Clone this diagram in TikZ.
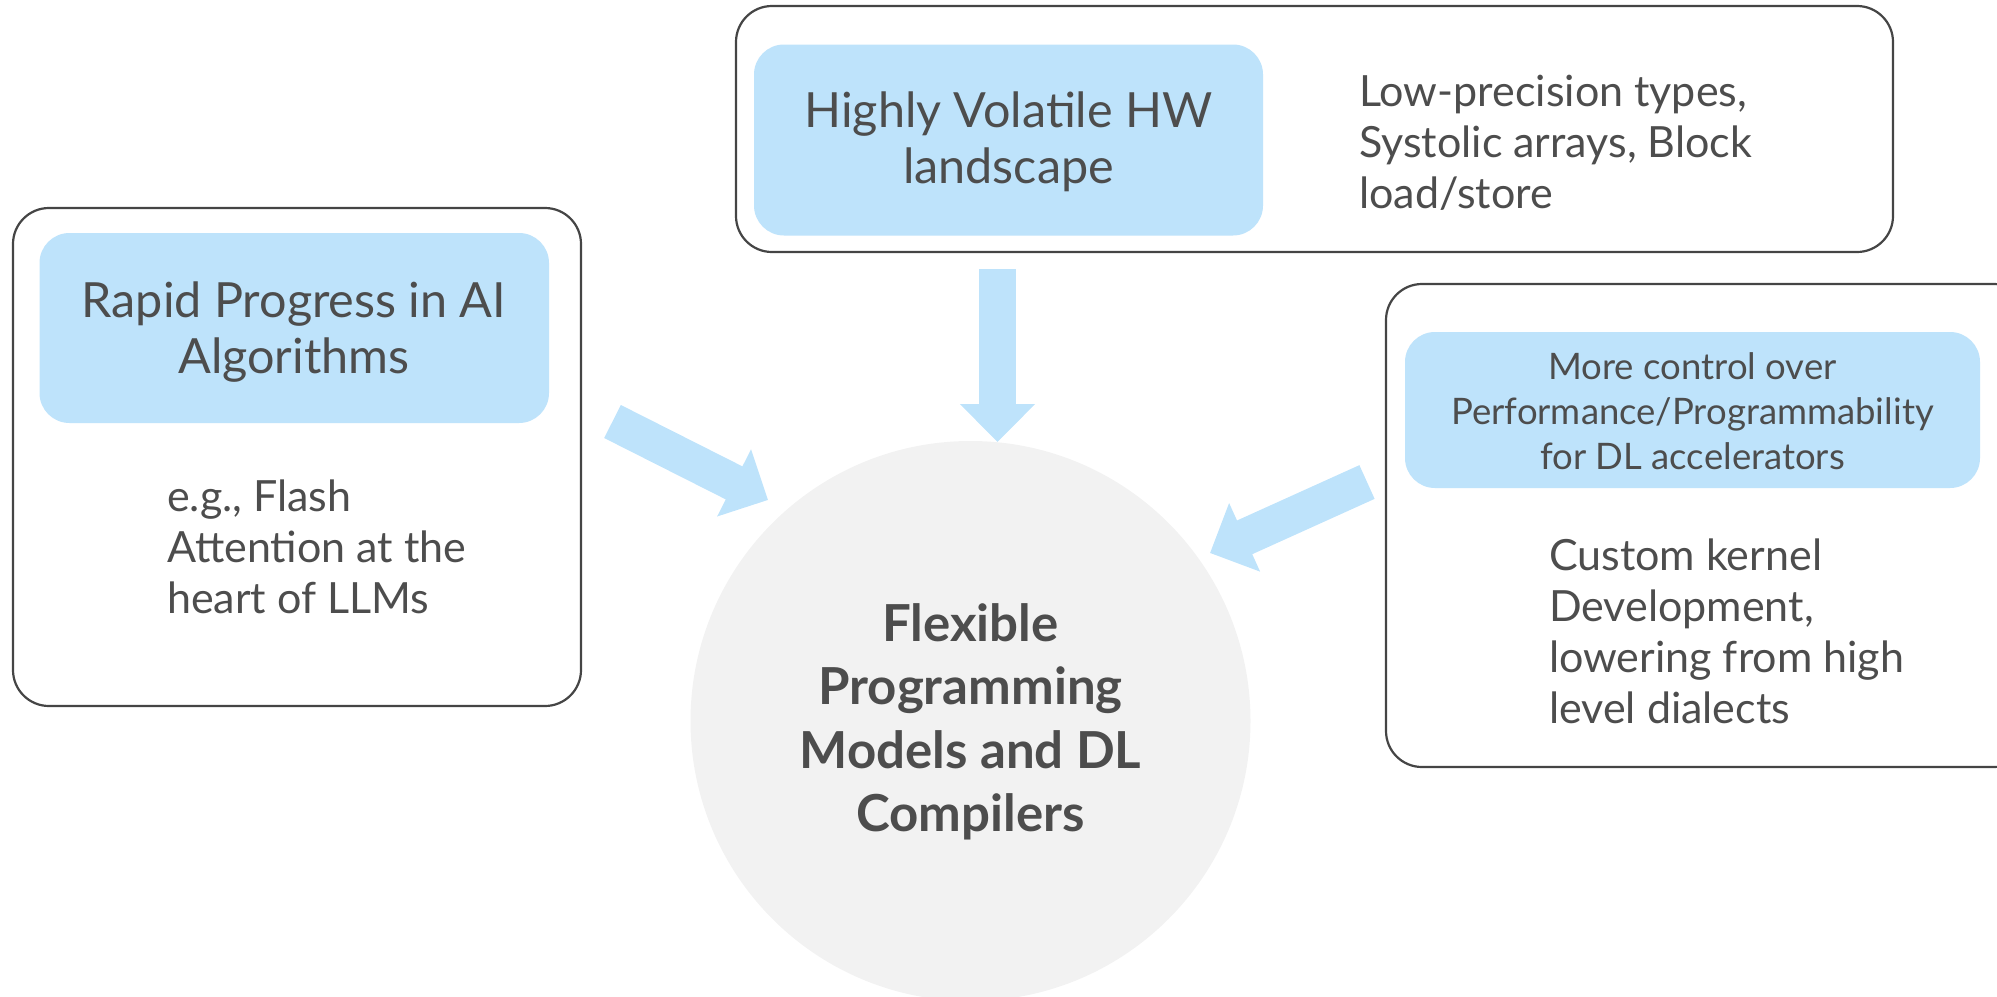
\documentclass[tikz,border=0pt]{standalone}
\usepackage{fontspec}
\setmainfont{Lato}
\usetikzlibrary{arrows.meta}
\definecolor{skyfill}{HTML}{BEE3FB}
\definecolor{hubfill}{HTML}{F2F2F2}
\definecolor{inkgray}{HTML}{4D4D4D}
\definecolor{rimgray}{HTML}{454545}
\tikzset{
  outerbox/.style={draw=rimgray, line width=2.2pt, rounded corners=36pt, fill=white},
  bluebox/.style={fill=skyfill, rounded corners=30pt, draw=none},
  headtxt/.style={text=inkgray, align=center, inner sep=0pt, font=\fontsize{48.5}{56}\selectfont},
  smallhead/.style={text=inkgray, align=center, inner sep=0pt, font=\fontsize{36.5}{45}\selectfont},
  bodytxt/.style={text=inkgray, align=left, inner sep=0pt, anchor=west, font=\fontsize{43}{51}\selectfont},
  hubtxt/.style={text=inkgray, align=center, inner sep=0pt, font=\bfseries\fontsize{51}{63.5}\selectfont},
  fatarrow/.style={draw=skyfill, line width=37pt, line cap=butt,
    -{Triangle[length=38pt 0, width=73pt 0]}},
}
\begin{document}
\begin{tikzpicture}[x=1pt, y=-1pt]
  \path[use as bounding box] (0,0) rectangle (1997,996);

  % central hub
  \fill[hubfill] (970.5,721) circle (280);
  \node[hubtxt] (hub) at (970.5,722) {Flexible\\Programming\\Models and DL\\Compilers};

  % left panel: algorithms
  \draw[outerbox] (13,208) rectangle (581,706);
  \fill[bluebox] (39.5,233) rectangle (549,423);
  \node[headtxt] (algo) at (294,332) {Rapid Progress in AI\\Algorithms};
  \node[bodytxt] (algoex) at (167,547) {e.g., Flash\\Attention at the\\heart of LLMs};

  % top panel: hardware
  \draw[outerbox] (736,6) rectangle (1893,252);
  \fill[bluebox] (754,44.5) rectangle (1263,235.5);
  \node[headtxt] (hw) at (1008.5,142) {Highly Volatile HW\\landscape};
  \node[bodytxt] (hwex) at (1359,143) {Low-precision types,\\Systolic arrays, Block\\load/store};

  % right panel: control
  \draw[outerbox] (1386,284) rectangle (2030,767);
  \fill[bluebox] (1405,332) rectangle (1980,488);
  \node[smallhead] (ctrl) at (1692.5,411) {More control over\\Performance/Programmability\\for DL accelerators};
  \node[bodytxt] (ctrlex) at (1549,631) {Custom kernel\\Development,\\lowering from high\\level dialects};

  % arrows into the hub
  \coordinate (fromalgo) at (612.5,421.5);
  \coordinate (toalgo) at (768,500);
  \coordinate (fromhw) at (997.5,269);
  \coordinate (tohw) at (997.5,442);
  \coordinate (fromctrl) at (1367,482);
  \coordinate (toctrl) at (1210,553);
  \draw[fatarrow] (fromalgo) -- (toalgo);
  \draw[fatarrow] (fromhw) -- (tohw);
  \draw[fatarrow] (fromctrl) -- (toctrl);
\end{tikzpicture}
\end{document}
